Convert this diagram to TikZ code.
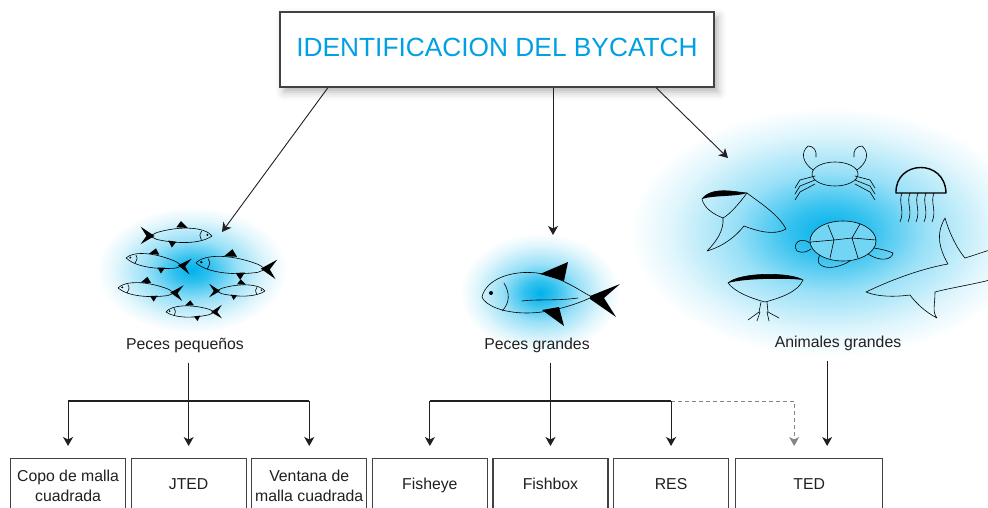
\documentclass[tikz,border=0pt]{standalone}
\usepackage{fontspec}
\setmainfont{Liberation Sans}
\usetikzlibrary{positioning}
\usetikzlibrary{arrows.meta}
\usetikzlibrary{shadows.blur}
\definecolor{titleblue}{RGB}{0,160,227}
\definecolor{glowblue}{RGB}{0,178,235}
\definecolor{ink}{RGB}{35,31,32}
\pgfdeclareradialshading{glow}{\pgfpoint{0bp}{0bp}}{%
    color(0bp)=(glowblue); color(5bp)=(glowblue!80);
    color(12bp)=(glowblue!40); color(20bp)=(glowblue!12);
    color(25bp)=(white); color(50bp)=(white)}
\tikzset{
    x=1pt, y=-1pt,
    >={Stealth[length=9pt, width=10pt, inset=2.5pt]},
    every node/.append style={
        text=ink,
        font=\fontsize{15.8}{20}\selectfont
    },
    titlebox/.style={
        draw=ink!85, line width=1.2pt, fill=white,
        minimum width=434pt, minimum height=75pt, text depth=4pt,
        text=titleblue, font=\fontsize{26.3}{30}\selectfont,
        blur shadow={shadow xshift=4pt, shadow yshift=-5pt,
            shadow blur radius=8pt, shadow opacity=30}
    },
    devbox/.style={
        draw=ink!85, line width=1.1pt, fill=white,
        minimum width=115pt, minimum height=54pt,
        inner sep=2pt, align=center
    },
    oneline/.style={text height=11.5pt, text depth=3.5pt},
    groupname/.style={outer sep=7pt},
    link/.style={draw=ink, line width=1.1pt, ->, shorten >=12pt},
    pointer/.style={draw=ink, line width=0.9pt, ->},
    branch/.style={draw=ink, line width=1.1pt},
    maybe/.style={draw=ink!55, line width=1pt, dash pattern=on 4pt off 3pt, ->, shorten >=12pt},
    glowspot/.style={shading=glow},
    sketch/.style={draw=black, line width=0.6pt, line join=round, line cap=round},
    smallfish/.pic={
        \draw[sketch] (0,0) .. controls (6,-8) and (28,-9) .. (48,-3)
            -- (52,-1) (52,1) -- (48,3) .. controls (30,7) and (10,7) .. (0,0);
        \fill (50,0) -- (62,-8) -- (57,0) -- (62,7) -- cycle;
        \fill (21,-7) -- (27,-13) -- (31,-7.5) -- cycle;
        \fill (31,5) -- (35,10) -- (38,4) -- cycle;
        \draw[sketch] (9,-4) .. controls (11,-1) .. (9,4);
        \fill (4,-1) circle (1);
    },
    bigfish/.pic={
        \draw[sketch] (0,0) .. controls (4,-18) and (30,-27) .. (55,-24)
            .. controls (80,-20) and (98,-6) .. (110,0)
            .. controls (98,6) and (70,16) .. (45,16)
            .. controls (20,16) and (3,8) .. (0,0) -- cycle;
        \fill (108,-1) -- (138,-13) -- (122,1) -- (134,20) -- (108,2) -- cycle;
        \fill (58,-23) -- (86,-35) -- (82,-16) -- cycle;
        \fill (60,13) -- (82,29) -- (77,10) -- cycle;
        \draw[sketch] (22,-14) .. controls (28,-4) and (28,6) .. (20,14);
        \draw[sketch] (40,4) .. controls (55,2) and (75,4) .. (96,1);
        \fill (9,-4) circle (2);
    }
}
\begin{document}
\begin{tikzpicture}
    \useasboundingbox (0,0) rectangle (988,508);
    \clip (0,0) rectangle (988,508);

    % glows behind the sketches
    \shade[glowspot] (192,270) ellipse [x radius=95, y radius=63];
    \shade[glowspot] (540,293) ellipse [x radius=80, y radius=60];
    \shade[glowspot] (830,232) ellipse [x radius=200, y radius=125];

    % small fish
    \pic[xscale=-1, scale=1.15] at (212,236) {smallfish};
    \pic[rotate=-8, scale=1.05] at (126,258) {smallfish};
    \pic[rotate=-5, scale=1.3] at (196,263) {smallfish};
    \pic[rotate=-5, scale=1.05] at (118,288) {smallfish};
    \pic[xscale=-1, scale=0.9] at (265,291) {smallfish};
    \pic[scale=0.9] at (166,312) {smallfish};

    % large fish
    \pic at (482,297) {bigfish};

    % large animals
    \draw[sketch] (702,199) .. controls (712,186) and (735,192) .. (747,193)
        .. controls (760,203) and (778,214) .. (786,229)
        .. controls (774,236) and (757,231) .. (744,226)
        .. controls (736,236) and (724,246) .. (707,251)
        .. controls (717,241) and (724,230) .. (723,218)
        .. controls (713,214) and (704,208) .. (702,199) -- cycle;
    \draw[sketch] (747,193) .. controls (738,205) and (730,214) .. (723,218);
    \fill (702,199) .. controls (712,186) and (735,192) .. (747,193)
        .. controls (735,197) and (714,195) .. (702,199);
    \draw[sketch] (728,283) .. controls (740,272) and (790,272) .. (803,280)
        .. controls (798,292) and (780,298) .. (765,302)
        .. controls (750,298) and (735,292) .. (728,283) -- cycle;
    \fill (728,283) .. controls (740,272) and (790,272) .. (803,280)
        .. controls (790,278) and (745,278) .. (728,283);
    \draw[sketch] (761,302) -- (759,312) (767,302) -- (768,312)
        (759,312) -- (748,320) (760,312) -- (757,321)
        (767,312) -- (769,321) (768,312) -- (779,318);
    \draw[sketch] (835,174) ellipse [x radius=23, y radius=12];
    \draw[sketch] (813,170) .. controls (803,163) and (800,153) .. (808,146)
        .. controls (814,146) and (817,151) .. (816,157);
    \draw[sketch] (857,170) .. controls (867,163) and (870,153) .. (862,146)
        .. controls (856,146) and (853,151) .. (854,157);
    \foreach \k in {0,1,2} {
        \draw[sketch] (815,{176+4*\k}) -- (800,{180+6*\k}) -- (795,{188+6*\k});
        \draw[sketch] (855,{176+4*\k}) -- (870,{180+6*\k}) -- (875,{188+6*\k});
    }
    \draw[sketch, line width=1.4pt] (896,193) .. controls (895,160) and (945,158) .. (946,193) -- cycle;
    \foreach \t in {902,910,...,940}
        \draw[sketch] (\t,193) .. controls ({\t-4},203) and ({\t+3},210) .. ({\t-2},222);
    \draw[sketch, fill=glowblue!55] (843,241) ellipse [x radius=33, y radius=20];
    \draw[sketch] (810,243) .. controls (800,236) and (792,244) .. (797,251)
        .. controls (803,254) and (808,251) .. (811,249);
    \draw[sketch] (820,255) .. controls (812,268) and (832,272) .. (850,261);
    \draw[sketch] (868,254) .. controls (880,262) and (892,260) .. (893,253)
        .. controls (885,250) .. (874,248);
    \draw[sketch] (828,225) -- (834,240) -- (852,238) -- (860,224)
        (834,240) -- (830,258) (852,238) -- (858,258)
        (834,240) -- (811,242) (852,238) -- (876,240);
    \draw[sketch] (866,292) .. controls (895,278) and (925,268) .. (948,264)
        .. controls (940,250) and (935,235) .. (945,218)
        .. controls (950,235) and (958,250) .. (965,258)
        .. controls (975,255) and (983,252) .. (990,250)
        (990,280) .. controls (970,285) and (950,288) .. (935,292)
        .. controls (935,305) and (932,312) .. (937,318)
        .. controls (925,312) and (915,302) .. (910,295)
        .. controls (895,297) and (878,297) .. (866,292);

    % title and groups
    \node[titlebox] (title) at (497,49.5) {IDENTIFICACION DEL BYCATCH};
    \node[groupname] (pequenos) at (185,345) {Peces pequeños};
    \node[groupname] (grandes) at (537,345) {Peces grandes};
    \node[groupname] (animales) at (838,343) {Animales grandes};

    \coordinate (pp-in) at (222,232);
    \coordinate (pg-in) at (553,235);
    \coordinate (an-in) at (728,158);
    \draw[pointer] ([xshift=-169pt]title.south) -- (pp-in);
    \draw[pointer] ([xshift=56pt]title.south) -- (pg-in);
    \draw[pointer] ([xshift=159pt]title.south) -- (an-in);

    % devices
    \node[devbox, anchor=north west] (copo) at (10,458) {Copo de malla\\cuadrada};
    \node[devbox, oneline, right=4.5pt of copo] (jted) {JTED};
    \node[devbox, right=4.5pt of jted] (ventana) {Ventana de\\malla cuadrada};
    \node[devbox, oneline, right=4.5pt of ventana] (fisheye) {Fisheye};
    \node[devbox, oneline, right=4.5pt of fisheye] (fishbox) {Fishbox};
    \node[devbox, oneline, right=4.5pt of fishbox] (res) {RES};
    \node[devbox, oneline, right=6pt of res, minimum width=147pt] (ted) {TED};
    \coordinate (ted-dash) at ([xshift=-15pt]ted.north);
    \coordinate (ted-in) at ([xshift=18pt]ted.north);

    \coordinate (bar) at (0,401);
    \draw[link] (pequenos.south -| jted.north) -- (jted.north);
    \draw[branch] (bar -| copo.north) -- (bar -| ventana.north);
    \draw[link] (bar -| copo.north) -- (copo.north);
    \draw[link] (bar -| ventana.north) -- (ventana.north);

    \draw[maybe] (bar -| res.north) -| (ted-dash);
    \draw[link] (grandes.south -| fishbox.north) -- (fishbox.north);
    \draw[branch] (bar -| fisheye.north) -- (bar -| res.north);
    \draw[link] (bar -| fisheye.north) -- (fisheye.north);
    \draw[link] (bar -| res.north) -- (res.north);
    \draw[link] (animales.south -| ted-in) -- (ted-in);
\end{tikzpicture}
\end{document}
